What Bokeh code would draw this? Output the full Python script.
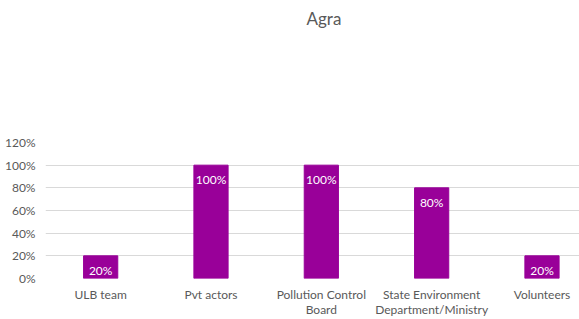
from bokeh.plotting import figure
from bokeh.models import ColumnDataSource, FixedTicker, NumeralTickFormatter, Range1d, Title
from bokeh.core.properties import value
from bokeh.embed import file_html
from bokeh.resources import INLINE

title_text = "Agra"
categories = ["ULB team", "Pvt actors", "Pollution Control\nBoard",
              "State Environment\nDepartment/Ministry", "Volunteers"]
values = [0.20, 1.00, 1.00, 0.80, 0.20]
y_ticks = [0, 0.2, 0.4, 0.6, 0.8, 1.0, 1.2]

FONT = "Lato"
GRAY = "#595959"
BAR = "#990099"

xs = list(range(len(categories)))
labels = [f"{round(v * 100)}%" for v in values]
src = ColumnDataSource(dict(x=xs, top=values, label=labels))

p = figure(width=579, height=319, output_backend="svg", toolbar_location=None,
           x_range=Range1d(-0.5, 4.34), y_range=Range1d(0, 1.2),
           min_border_left=45, min_border_right=0, min_border_top=141,
           min_border_bottom=40)
p.outline_line_color = None
p.background_fill_color = "white"
p.border_fill_color = "white"
p.title = None

spacer = Title(text=" ", text_font_size="1px", standoff=106)
p.add_layout(spacer, "above")
main_title = Title(text=title_text, align="left", offset=261, standoff=10,
                   text_font=FONT, text_font_size="17px",
                   text_font_style="normal", text_color=GRAY)
p.add_layout(main_title, "above")

p.vbar(x="x", top="top", width=0.31, source=src, color=BAR)
p.text(x="x", y="top", text="label", source=src, text_align="center",
       text_baseline="top", y_offset=7, text_color="white",
       text_font=value(FONT), text_font_size="12px")

p.xgrid.grid_line_color = None
p.ygrid.grid_line_color = "#D9D9D9"
p.ygrid.ticker = FixedTicker(ticks=y_ticks)

p.yaxis.ticker = FixedTicker(ticks=y_ticks)
p.yaxis.formatter = NumeralTickFormatter(format="0%")
p.xaxis.ticker = FixedTicker(ticks=xs)
p.xaxis.major_label_overrides = {i: c for i, c in zip(xs, categories)}

for ax in (p.xaxis[0], p.yaxis[0]):
    ax.axis_line_color = None
    ax.major_tick_line_color = None
    ax.minor_tick_line_color = None
    ax.major_tick_out = 0
    ax.major_tick_in = 0
    ax.axis_label_standoff = 0
    ax.major_label_text_font = FONT
    ax.major_label_text_font_size = "12px"
    ax.major_label_text_color = GRAY
    ax.major_label_text_line_height = 1.0
p.yaxis.major_label_standoff = 10
p.xaxis.major_label_standoff = 8

open("out.html", "w").write(file_html(p, INLINE))
